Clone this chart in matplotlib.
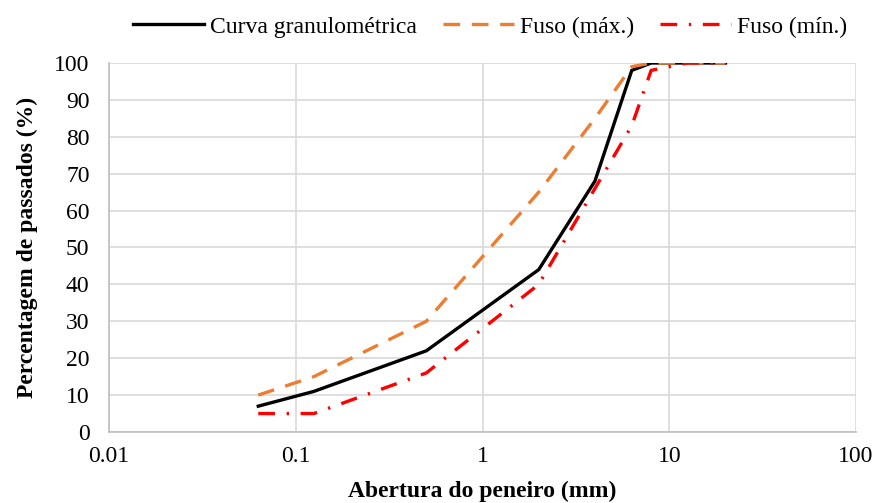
import matplotlib
matplotlib.use("Agg")
import matplotlib.pyplot as plt
from matplotlib.ticker import FixedLocator, FixedFormatter, NullLocator

# Data
sieve_mm = [0.063, 0.125, 0.5, 2, 4, 6.3, 8, 10, 12.5, 16, 20]
curva = [7, 11, 22, 44, 68, 98, 100, 100, 100, 100, 100]
fuso_max = [10, 15, 30, 65, 85, 99, 100, 100, 100, 100, 100]
fuso_min = [5, 5, 16, 40, 66, 83, 98, 99, 100, 100, 100]

x_ticks = [0.01, 0.1, 1, 10, 100]
x_tick_labels = ["0.01", "0.1", "1", "10", "100"]
y_ticks = list(range(0, 101, 10))

plt.rcParams['font.family'] = ['Liberation Serif', 'DejaVu Serif']
FS = 17

fig = plt.figure(figsize=(8.75, 5.03), dpi=100)
ax = fig.add_axes([109/875, 1 - 432/503, (856-109)/875, (432-63)/503])

ax.plot(sieve_mm, curva, color='black', lw=2.4, label='Curva granulométrica',
        solid_joinstyle='miter')
ax.plot(sieve_mm, fuso_max, color='#ED7D31', lw=2.4, linestyle=(0, (5, 3.5)),
        label='Fuso (máx.)')
ax.plot(sieve_mm, fuso_min, color='#FF0000', lw=2.4, linestyle=(0, (5, 3.5, 0.7, 3.5)),
        label='Fuso (mín.)')

ax.set_xscale('log')
ax.set_xlim(0.01, 100)
ax.set_ylim(0, 100)
ax.xaxis.set_major_locator(FixedLocator(x_ticks))
ax.xaxis.set_major_formatter(FixedFormatter(x_tick_labels))
ax.xaxis.set_minor_locator(NullLocator())
ax.set_yticks(y_ticks)

ax.grid(True, which='major', color='#d9d9d9', lw=1.2)
ax.set_axisbelow(True)
for s in ['top', 'right']:
    ax.spines[s].set_visible(False)
for s in ['left', 'bottom']:
    ax.spines[s].set_color('#bfbfbf')
    ax.spines[s].set_linewidth(1.2)
ax.tick_params(length=0, labelsize=FS, colors='black')
ax.tick_params(axis='y', pad=14)
ax.tick_params(axis='x', pad=10)

ax.set_xlabel('Abertura do peneiro (mm)', fontsize=FS, fontweight='bold', labelpad=10)
ax.set_ylabel('Percentagem de passados (%)', fontsize=FS, fontweight='bold', labelpad=12)

leg = fig.legend(loc='center', bbox_to_anchor=(490/875, 1 - 27/503), ncol=3, frameon=False,
                 fontsize=FS, handlelength=3.0, handletextpad=0.25, columnspacing=1.1)

fig.savefig('out.png', dpi=100)
